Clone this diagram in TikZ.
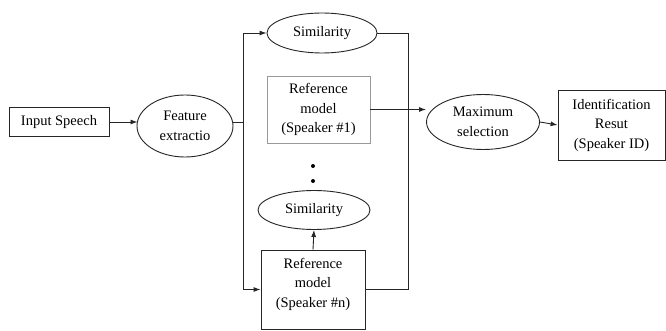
\documentclass[tikz,border=0pt]{standalone}
\usepackage{fontspec}
\setmainfont{Liberation Serif}
\usetikzlibrary{shapes.geometric,arrows.meta}
\tikzset{
  base/.style={draw=black!85, line width=0.9pt, inner sep=0pt, align=center, font=\fontsize{14.5}{19.5}\selectfont},
  boxnode/.style={base, rectangle},
  ellnode/.style={base, ellipse},
  conn/.style={draw=black!85, line width=0.9pt},
  arr/.style={conn, -{Latex[length=7pt,width=5pt]}},
  dotnode/.style={circle, fill=black, inner sep=0pt, minimum size=4pt},
}
\begin{document}
\begin{tikzpicture}[x=1pt,y=-1pt]
\useasboundingbox[fill=white] (0,0) rectangle (666,331);
\node[boxnode, minimum width=100pt, minimum height=29pt] (inp) at (59,122) {Input Speech};
\node[ellnode, minimum width=96pt, minimum height=62pt] (feat) at (185,126) {Feature\\extractio};
\node[ellnode, minimum width=110pt, minimum height=40pt] (sim1) at (322,33) {Similarity};
\node[boxnode, draw=black!40, line width=0.6pt, minimum width=103pt, minimum height=67pt] (ref1) at (318.5,109.5) {Reference\\model\\(Speaker \#1)};
\node[dotnode] (d1) at (313,166) {};
\node[dotnode] (d2) at (313,181) {};
\node[ellnode, minimum width=112pt, minimum height=39pt] (sim2) at (314,210) {Similarity};
\node[boxnode, minimum width=104pt, minimum height=79pt] (refn) at (313,289.5) {};
\node[base, draw=none] (refnt) at (313,284) {Reference\\model\\(Speaker \#n)};
\node[ellnode, minimum width=113pt, minimum height=55pt] (maxs) at (483,122) {Maximum\\selection};
\node[boxnode, minimum width=107pt, minimum height=70pt] (ident) at (611.5,125) {Identification\\Resut\\(Speaker ID)};
\coordinate (jl) at (243,122);
\coordinate (jr) at (408,289.5);
\coordinate (fw) at (137.5,122);
\coordinate (fe) at (232.5,122);
\draw[arr] (inp.east) -- (fw);
\draw[conn] (fe) -- (jl);
\draw[arr] (jl) |- (sim1.west);
\draw[arr] (jl) |- (refn.west);
\draw[conn] (sim1.east) -| (jr);
\draw[conn] (refn.east) -- (jr);
\draw[arr] (ref1.east) -- (ref1.east -| maxs.west);
\draw[arr] (refn.north) -- (sim2.south);
\draw[arr] (maxs.east) -- (ident.west);
\end{tikzpicture}
\end{document}
